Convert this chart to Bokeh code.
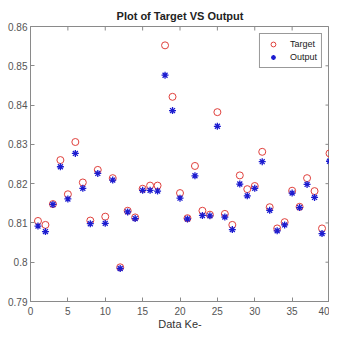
import math
from bokeh.plotting import figure
from bokeh.models import ColumnDataSource, FixedTicker, CustomJSTickFormatter, Legend, LegendItem
from bokeh.embed import file_html
from bokeh.resources import INLINE

idx = list(range(1, 41))
target = [0.8105, 0.8095, 0.8148, 0.8260, 0.8173, 0.8306, 0.8203, 0.8106, 0.8235, 0.8116,
          0.8214, 0.7987, 0.8131, 0.8114, 0.8187, 0.8195, 0.8195, 0.8552, 0.8421, 0.8176,
          0.8112, 0.8245, 0.8131, 0.8121, 0.8382, 0.8123, 0.8095, 0.8221, 0.8186, 0.8194,
          0.8281, 0.8140, 0.8086, 0.8102, 0.8182, 0.8141, 0.8214, 0.8181, 0.8086, 0.8277]
output = [0.8092, 0.8078, 0.8147, 0.8243, 0.8161, 0.8277, 0.8188, 0.8098, 0.8226, 0.8099,
          0.8209, 0.7984, 0.8128, 0.8111, 0.8183, 0.8183, 0.8181, 0.8476, 0.8386, 0.8163,
          0.8110, 0.8220, 0.8119, 0.8118, 0.8346, 0.8115, 0.8083, 0.8199, 0.8169, 0.8188,
          0.8256, 0.8132, 0.8080, 0.8095, 0.8176, 0.8139, 0.8198, 0.8165, 0.8073, 0.8257]
x_ticks = [0, 5, 10, 15, 20, 25, 30, 35, 40]
y_ticks = [0.79, 0.80, 0.81, 0.82, 0.83, 0.84, 0.85, 0.86]
x_min, x_max = 0, 40
y_min, y_max = 0.79, 0.86

FONT = "Liberation Sans"
AX = "#8a8a8a"
LBL = "#555555"

src = ColumnDataSource(dict(x=idx, t=target, o=output))

p = figure(width=329, height=332, x_range=(x_min, x_max), y_range=(y_min, y_max),
           output_backend="svg", toolbar_location=None,
           min_border_left=30, min_border_right=0, min_border_top=26, min_border_bottom=30)
p.background_fill_color = "white"
p.border_fill_color = "white"
p.xgrid.visible = False
p.ygrid.visible = False
p.outline_line_color = AX

p.title.text = "Plot of Target VS Output"
p.title.align = "center"
p.title.text_font = FONT
p.title.text_font_size = "11px"
p.title.text_font_style = "bold"
p.title.text_color = "#222222"
p.title.standoff = 9

fmt = CustomJSTickFormatter(code="return String(Number(tick.toFixed(2)));")

p.xaxis.ticker = FixedTicker(ticks=x_ticks)
p.yaxis.ticker = FixedTicker(ticks=y_ticks)
p.yaxis.formatter = fmt

for ax in list(p.xaxis) + list(p.yaxis):
    ax.major_tick_in = 4
    ax.major_tick_out = 0
    ax.minor_tick_in = 0
    ax.minor_tick_out = 0
    ax.axis_line_color = AX
    ax.major_tick_line_color = AX
    ax.major_label_text_font = FONT
    ax.major_label_text_font_size = "10px"
    ax.major_label_text_color = LBL
    ax.axis_label_text_font = FONT
    ax.axis_label_text_font_style = "normal"
    ax.axis_label_text_font_size = "11px"
    ax.axis_label_text_color = "#333333"

p.yaxis.major_label_standoff = 3
p.xaxis.major_label_standoff = 5
p.xaxis.axis_label = "Data Ke-"
p.xaxis.axis_label_standoff = 0

# inward ticks on the top and right edges of the box (half of each dash is clipped)
p.scatter(x=x_ticks, y=[y_max] * len(x_ticks), marker="dash", angle=math.pi / 2,
          size=8, line_color=AX, line_width=1)
p.scatter(x=[x_max] * len(y_ticks), y=y_ticks, marker="dash",
          size=8, line_color=AX, line_width=1)

r_t = p.scatter("x", "t", source=src, marker="circle", size=7, fill_color=None,
                line_color="#e0403c", line_width=1)
r_o = p.scatter("x", "o", source=src, marker="asterisk", size=7,
                line_color="#1c1cd0", line_width=1.3)

legend = Legend(items=[LegendItem(label="Target", renderers=[r_t]),
                       LegendItem(label="Output", renderers=[r_o])],
                location="top_right")
legend.label_text_font = FONT
legend.label_text_font_size = "9px"
legend.label_text_color = "#222222"
legend.glyph_width = 18
legend.glyph_height = 12
legend.label_height = 12
legend.spacing = 1
legend.padding = 4
legend.margin = 7
legend.label_standoff = 8
legend.border_line_color = "#333333"
legend.border_line_width = 1
legend.background_fill_color = "white"
p.add_layout(legend, "center")

open("out.html", "w").write(file_html(p, INLINE))
